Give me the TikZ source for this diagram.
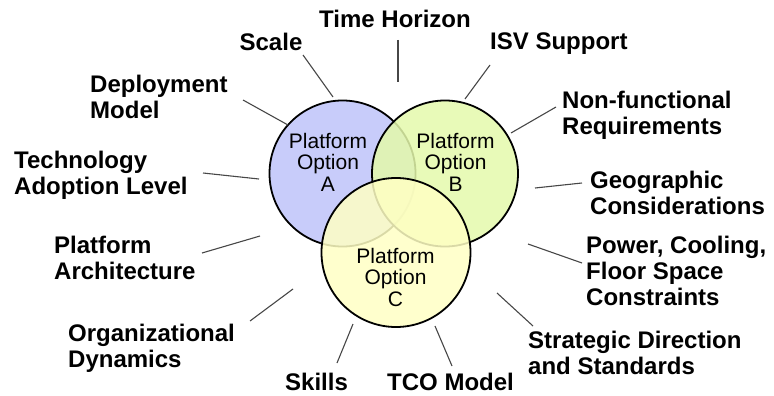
\documentclass[tikz,border=0pt]{standalone}
\usepackage{fontspec}
\setmainfont{Liberation Sans}
\usepackage{tikz}
\usetikzlibrary{positioning}
\definecolor{optAfill}{RGB}{200,204,250}
\definecolor{optBfill}{RGB}{228,249,171}
\definecolor{optCfill}{RGB}{255,255,196}
\tikzset{x=1pt, y=-1pt,        % one unit is one pixel of the sketch, y runs down
         option/.style={       % the three platform circles
           circle,
           draw=black,
           line width=1.8pt,
           inner sep=0pt,
           minimum size=146pt},
         optlabel/.style={     % text inside a circle
           align=center,
           anchor=north,
           inner sep=0pt,
           font=\fontsize{21}{21.5}\selectfont},
         factor/.style={       % decision factors round the circles
           align=left,
           anchor=north west,
           inner sep=0pt,
           font=\fontsize{24}{26}\selectfont\bfseries},
         spoke/.style={        % short lines from a factor to the circles
           draw=black!72,
           line width=1.1pt}}

\begin{document}
\begin{tikzpicture}
\useasboundingbox (0,0) rectangle (774,396);

\node[option, fill=optAfill] (optA) at (342.5,173.5) {};
\node[option, fill=optBfill, fill opacity=0.85] (optB) at (445,173.5) {};
\node[option, fill=optCfill, fill opacity=0.85, minimum size=149pt] (optC) at (396,252.5) {};

\node[optlabel] (labA) at (328,133) {Platform\\Option\\A};
\node[optlabel] (labB) at (455.5,133) {Platform\\Option\\B};
\node[optlabel] (labC) at (395.5,248) {Platform\\Option\\C};

\node[factor, anchor=north] (timeH) at (395,10) {Time Horizon};
\node[factor, anchor=north] (scale) at (271,33) {Scale};
\node[factor] (isv) at (490,33) {ISV Support};
\node[factor] (deploy) at (90,75) {Deployment\\Model};
\node[factor] (nonfunc) at (562,91) {Non-functional\\Requirements};
\node[factor] (tech) at (14,151) {Technology\\Adoption Level};
\node[factor] (geo) at (590,171) {Geographic\\Considerations};
\node[factor] (arch) at (54,236) {Platform\\Architecture};
\node[factor] (power) at (586,236) {Power, Cooling,\\Floor Space\\Constraints};
\node[factor] (org) at (68,324) {Organizational\\Dynamics};
\node[factor] (strat) at (528,331) {Strategic Direction\\and Standards};
\node[factor] (skills) at (285,373) {Skills};
\node[factor] (tco) at (387,373) {TCO Model};

% spoke ends
\coordinate (timeH-out) at (398,40);   \coordinate (timeH-in) at (398,82);
\coordinate (scale-out) at (303,55);   \coordinate (scale-in) at (333,97);
\coordinate (isv-out) at (490,65);     \coordinate (isv-in) at (465,99);
\coordinate (deploy-out) at (243,100); \coordinate (deploy-in) at (288,125);
\coordinate (nonfunc-out) at (556,107);\coordinate (nonfunc-in) at (511,133);
\coordinate (tech-out) at (203,173);   \coordinate (tech-in) at (259,179);
\coordinate (geo-out) at (582,183);    \coordinate (geo-in) at (535,188);
\coordinate (arch-out) at (202,253);   \coordinate (arch-in) at (260,236);
\coordinate (power-out) at (582,263);  \coordinate (power-in) at (528,244);
\coordinate (org-out) at (250,321);    \coordinate (org-in) at (293,289);
\coordinate (strat-out) at (533,326);  \coordinate (strat-in) at (497,293);
\coordinate (skills-out) at (337,363); \coordinate (skills-in) at (353,324);
\coordinate (tco-out) at (452,366);    \coordinate (tco-in) at (435,326);

\draw[spoke] (timeH-out) -- (timeH-in);
\draw[spoke] (scale-out) -- (scale-in);
\draw[spoke] (isv-out) -- (isv-in);
\draw[spoke] (deploy-out) -- (deploy-in);
\draw[spoke] (nonfunc-out) -- (nonfunc-in);
\draw[spoke] (tech-out) -- (tech-in);
\draw[spoke] (geo-out) -- (geo-in);
\draw[spoke] (arch-out) -- (arch-in);
\draw[spoke] (power-out) -- (power-in);
\draw[spoke] (org-out) -- (org-in);
\draw[spoke] (strat-out) -- (strat-in);
\draw[spoke] (skills-out) -- (skills-in);
\draw[spoke] (tco-out) -- (tco-in);

\end{tikzpicture}
\end{document}
